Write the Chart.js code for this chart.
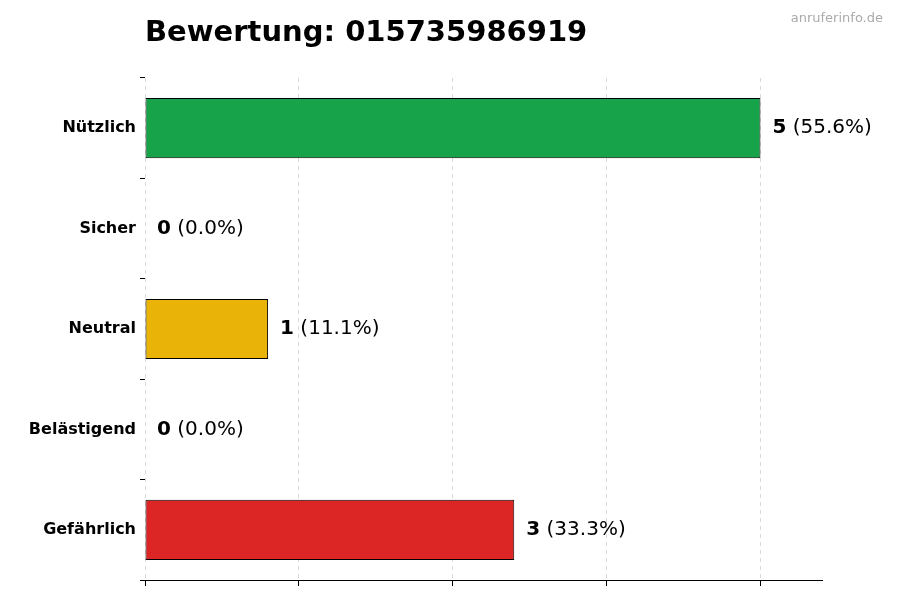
<!DOCTYPE html>
<html><head><meta charset="utf-8">
<script src="https://cdn.jsdelivr.net/npm/chart.js@4"></script>
<style>body{margin:0;background:#fff}#w{width:900px;height:600px}</style>
</head><body><div id="w"><canvas id="c"></canvas></div>
<script>
const categories = ["Nützlich","Sicher","Neutral","Belästigend","Gefährlich"];
const counts = [5,0,1,0,3];
const percents = ["55.6%","0.0%","11.1%","0.0%","33.3%"];
const colors = ["#16a34a","#16a34a","#eab308","#dc2626","#dc2626"];
const xTicks = [0,1.25,2.5,3.75,5];

const labelPlugin = {
  id:'lbl',
  afterDatasetsDraw(chart){
    const ctx = chart.ctx, meta = chart.getDatasetMeta(0);
    ctx.save(); ctx.textBaseline='middle'; ctx.fillStyle='#000';
    meta.data.forEach((b,i)=>{
      let x = b.x + 12;
      ctx.font = 'bold 20px "DejaVu Sans"';
      const s = String(counts[i]);
      ctx.fillText(s,x,b.y);
      x += ctx.measureText(s).width;
      ctx.font = '20px "DejaVu Sans"';
      ctx.fillText(' ('+percents[i]+')',x,b.y);
    });
    ctx.font='bold 29px "DejaVu Sans"'; ctx.textBaseline='alphabetic';
    ctx.fillText('Bewertung: 015735986919',145,41);
    ctx.font='13px "DejaVu Sans"'; ctx.fillStyle='#aaa'; ctx.textAlign='right';
    ctx.fillText('anruferinfo.de',883,22);
    ctx.restore();
  }
};

new Chart(document.getElementById('c'),{
  type:'bar',
  data:{labels:categories,datasets:[{data:counts,backgroundColor:colors,borderColor:'#000',borderWidth:1,borderSkipped:false,barPercentage:0.6,categoryPercentage:1}]},
  options:{
    indexAxis:'y',responsive:true,maintainAspectRatio:false,animation:false,
    layout:{padding:{top:78,right:78,left:0,bottom:0}},
    plugins:{legend:{display:false},tooltip:{enabled:false}},
    scales:{
      x:{type:'linear',min:0,max:5.5,
        afterBuildTicks(s){s.ticks=xTicks.map(v=>({value:v}));},
        afterFit(s){s.height=20;},
        ticks:{callback:()=>'',padding:0},
        grid:{color:'rgba(0,0,0,0.15)',tickColor:'#000',tickLength:6,drawOnChartArea:true},
        border:{display:true,color:'#000',dash:[4,4]}
      },
      y:{afterFit(s){s.width=145;},
        ticks:{color:'#000',font:{family:'DejaVu Sans',size:16,weight:'bold'},padding:4},
        grid:{drawOnChartArea:false,tickColor:'#000',tickLength:5},
        border:{display:false}
      }
    }
  },
  plugins:[labelPlugin]
});
</script></body></html>
